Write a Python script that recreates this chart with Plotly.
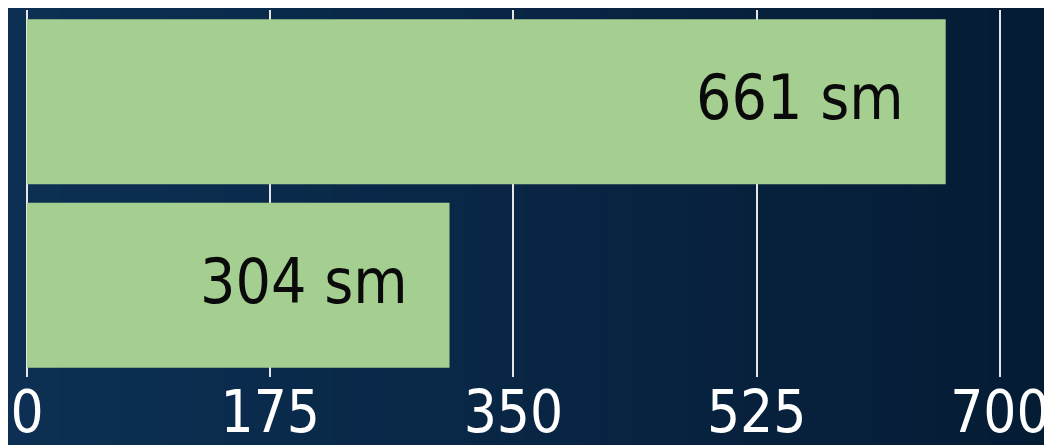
import plotly.graph_objects as go

categories = ["A", "B"]
values = [661, 304]
unit = "sm"
tick_vals = [0, 175, 350, 525, 700]
tick_text = ["0", "175", "350", "525", "700"]

FONT = "Liberation Sans Narrow, DejaVu Sans Condensed, Roboto, sans-serif"

fig = go.Figure()
fig.add_trace(go.Bar(
    y=categories, x=values, orientation="h",
    marker=dict(color="#a5cf91", line=dict(width=0)),
    hoverinfo="skip",
))

for c, v in zip(categories, values):
    fig.add_annotation(x=v, y=c, xref="x", yref="y", text=f"{v} {unit}",
                       showarrow=False, xanchor="right", xshift=-40, yshift=4,
                       font=dict(family=FONT, size=62, color="#0a0a0a"))

# background gradient (left lighter navy to right darker)
n = 40
c0 = (12, 48, 84)
c1 = (5, 27, 52)
shapes = []
for i in range(n):
    t = i / (n - 1)
    col = tuple(int(round(c0[k] + (c1[k] - c0[k]) * t)) for k in range(3))
    shapes.append(dict(type="rect", xref="paper", yref="paper",
                       x0=-0.05 + i * 1.12 / n, x1=-0.05 + (i + 1) * 1.12 / n + 0.002,
                       y0=-0.3, y1=1.1, layer="below", line=dict(width=0),
                       fillcolor="rgb(%d,%d,%d)" % col))

# page body has an 8px default margin, so the figure is sized to fit the window
fig.update_layout(
    width=1044, height=437,
    margin=dict(l=19, r=50, t=2, b=68, autoexpand=False),
    paper_bgcolor="#0b2e52", plot_bgcolor="rgba(0,0,0,0)",
    showlegend=False, bargap=0.1,
    shapes=shapes,
    xaxis=dict(range=[0, 701.5], tickvals=tick_vals, ticktext=tick_text,
               showgrid=True, gridcolor="#e6e6e6", gridwidth=2,
               zeroline=True, zerolinecolor="#e6e6e6", zerolinewidth=2,
               tickfont=dict(family=FONT, size=58, color="white"),
               ticks="", ticklabelstandoff=-4, ticklabeloverflow="allow",
               automargin=False, fixedrange=True),
    yaxis=dict(autorange="reversed", showticklabels=False, showgrid=False,
               zeroline=False, automargin=False, fixedrange=True),
)

fig.write_html("out.html")
